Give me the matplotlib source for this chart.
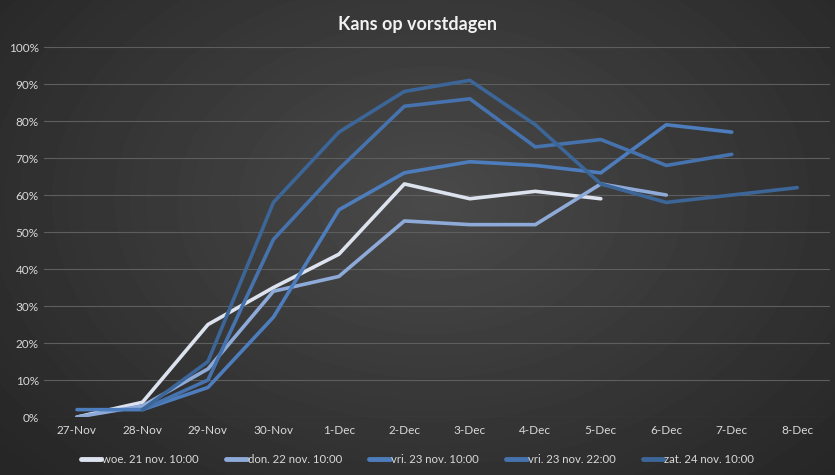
import numpy as np
import matplotlib.pyplot as plt
from matplotlib.ticker import PercentFormatter

# data (percent), nan = no forecast for that day
dates = ['27-Nov', '28-Nov', '29-Nov', '30-Nov', '1-Dec', '2-Dec',
         '3-Dec', '4-Dec', '5-Dec', '6-Dec', '7-Dec', '8-Dec']
nan = np.nan
woe_21 = [0, 4, 25, 35, 44, 63, 59, 61, 59, nan, nan, nan]
don_22 = [0, 3, 13, 34, 38, 53, 52, 52, 63, 60, nan, nan]
vri_23_10 = [2, 2, 8, 27, 56, 66, 69, 68, 66, 79, 77, nan]
vri_23_22 = [nan, 2, 10, 48, 67, 84, 86, 73, 75, 68, 71, nan]
zat_24 = [nan, 2, 15, 58, 77, 88, 91, 79, 63, 58, 60, 62]

labels = ['woe. 21 nov. 10:00', 'don. 22 nov. 10:00', 'vri. 23 nov. 10:00',
          'vri. 23 nov. 22:00', 'zat. 24 nov. 10:00']
colors = ['#dce3ef', '#8eaad8', '#4d7dbd', '#4673ae', '#3c6598']

plt.rcParams['font.family'] = ['Lato', 'DejaVu Sans']

fig = plt.figure(figsize=(8.35, 4.75), dpi=100)

# dark radial background
bg = fig.add_axes([0, 0, 1, 1], zorder=-10)
yy, xx = np.mgrid[0:475, 0:835]
r = np.sqrt(((xx - 430) / 600.0) ** 2 + ((yy - 200) / 420.0) ** 2)
shade = np.clip(0.29 - 0.15 * r, 0.15, 0.29)
bg.imshow(shade, cmap='gray', vmin=0, vmax=1, aspect='auto')
bg.axis('off')

ax = fig.add_axes([0.053, 0.122, 0.941, 0.779])
ax.patch.set_alpha(0)

x = np.arange(len(dates))
series = [woe_21, don_22, vri_23_10, vri_23_22, zat_24]
for s, lab, c in zip(series, labels, colors):
    ax.plot(x, np.array(s, dtype=float) / 100, color=c, lw=2.6, label=lab,
            solid_capstyle='round', solid_joinstyle='round')

ax.set_xlim(-0.5, len(dates) - 0.5)
ax.set_ylim(0, 1)
ax.set_yticks(np.arange(0, 1.01, 0.1))
ax.yaxis.set_major_formatter(PercentFormatter(1.0, decimals=0))
ax.set_xticks(x)
ax.set_xticklabels(dates)
ax.grid(axis='y', color='#5e5e5e', lw=0.8)
ax.set_axisbelow(True)
for sp in ax.spines.values():
    sp.set_visible(False)
ax.tick_params(length=0, colors='#d9d9d9', labelsize=8.5)
ax.tick_params(axis='x', pad=6)
ax.tick_params(axis='y', pad=4)

fig.text(0.5, 0.948, 'Kans op vorstdagen', ha='center', va='center',
         color='#f2f2f2', fontsize=13, fontweight='bold')

leg = ax.legend(loc='center', bbox_to_anchor=(0.475, -0.115), ncol=5,
                frameon=False, fontsize=8.2, handlelength=1.8,
                columnspacing=2.4, handletextpad=0.1)
for t in leg.get_texts():
    t.set_color('#d9d9d9')
for h in leg.get_lines():
    h.set_linewidth(3.5)

fig.savefig('out.png', dpi=100)
